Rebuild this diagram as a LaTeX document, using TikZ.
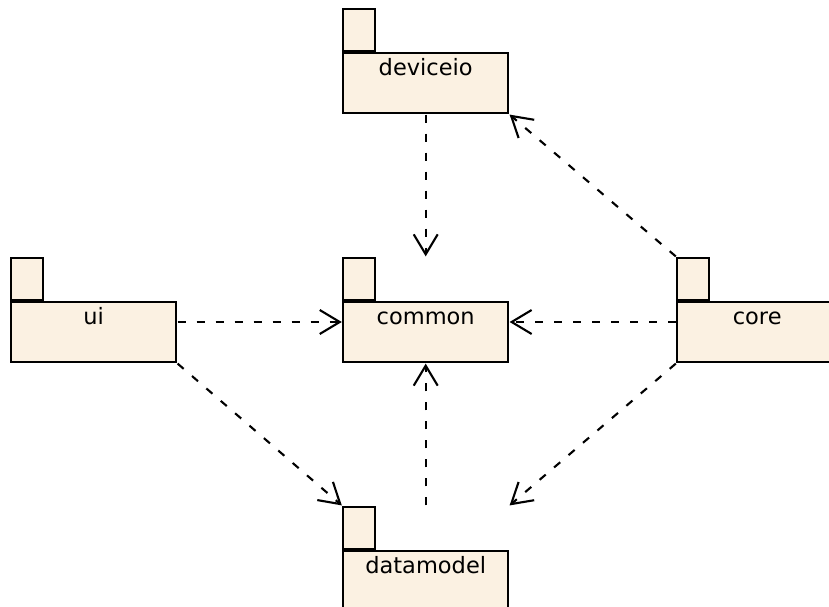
\documentclass[tikz,border=0pt]{standalone}
\usepackage{fontspec}
\setmainfont{DejaVu Sans}
\usetikzlibrary{arrows.meta,fit}
\definecolor{pkgfill}{RGB}{251,241,226}
\tikzset{
  pkgbody/.style={draw=black, line width=2.4pt, fill=pkgfill,
    minimum width=165pt, minimum height=60pt, inner sep=0pt,
    text height=22pt, text depth=38pt, anchor=north west,
    font=\fontsize{22.5pt}{26pt}\selectfont},
  pkgtab/.style={draw=black, line width=2.4pt, fill=pkgfill,
    minimum width=32pt, minimum height=42pt, inner sep=0pt,
    anchor=south west},
  pkg/.style={inner sep=0pt, draw=none, fill=none},
  dep/.style={draw=black, line width=2.1pt, dash pattern=on 8pt off 11pt,
    -{Straight Barb[length=20pt,width=24pt,line width=2.1pt]}}
}
\begin{document}
\begin{tikzpicture}[x=1pt, y=-1pt]
  \useasboundingbox (0,0) rectangle (829,607);
  \clip (0,0) rectangle (829,607);

  % packages: body, tab on its upper left, and a box around both
  \node[pkgbody] (deviceio) at (342,52) {deviceio};
  \node[pkgtab] (deviceio-tab) at (deviceio.north west) {};
  \node[pkg, fit=(deviceio)(deviceio-tab)] (deviceiopkg) {};

  \node[pkgbody] (ui) at (10,301) {ui};
  \node[pkgtab] (ui-tab) at (ui.north west) {};
  \node[pkg, fit=(ui)(ui-tab)] (uipkg) {};

  \node[pkgbody] (common) at (342,301) {common};
  \node[pkgtab] (common-tab) at (common.north west) {};
  \node[pkg, fit=(common)(common-tab)] (commonpkg) {};

  \node[pkgbody, minimum width=160pt] (core) at (676,301) {core};
  \node[pkgtab] (core-tab) at (core.north west) {};
  \node[pkg, fit=(core)(core-tab)] (corepkg) {};

  \node[pkgbody] (datamodel) at (342,550) {datamodel};
  \node[pkgtab] (datamodel-tab) at (datamodel.north west) {};
  \node[pkg, fit=(datamodel)(datamodel-tab)] (datamodelpkg) {};

  % dependencies
  \draw[dep] (deviceiopkg.south) -- (commonpkg.north);
  \draw[dep] (corepkg.north west) -- (deviceiopkg.south east);
  \draw[dep] ([yshift=-12pt]uipkg.east) -- ([yshift=-12pt]commonpkg.west);
  \draw[dep] ([yshift=-12pt]corepkg.west) -- ([yshift=-12pt]commonpkg.east);
  \draw[dep] (datamodelpkg.north) -- (commonpkg.south);
  \draw[dep] (uipkg.south east) -- (datamodelpkg.north west);
  \draw[dep] (corepkg.south west) -- (datamodelpkg.north east);
\end{tikzpicture}
\end{document}
